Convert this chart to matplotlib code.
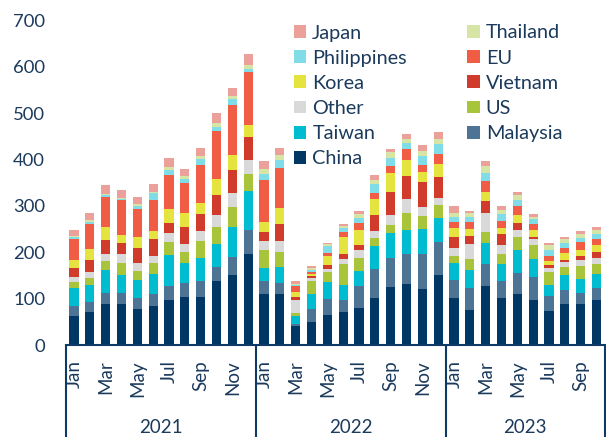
import matplotlib
matplotlib.use("Agg")
import matplotlib.pyplot as plt
import matplotlib.transforms as mtransforms
import numpy as np

plt.rcParams['font.family'] = ['Lato', 'DejaVu Sans']

months = ["Jan", "Feb", "Mar", "Apr", "May", "Jun", "Jul", "Aug", "Sep", "Oct", "Nov", "Dec"]
years = ["2021", "2022", "2023"]
months_per_year = [12, 12, 10]

China = [62, 72, 88, 88, 77, 85, 96, 103, 104, 137, 152, 197,
         109, 109, 42, 50, 65, 72, 80, 102, 126, 132, 121, 150,
         102, 76, 128, 102, 111, 96, 73, 88, 88, 96]
Malaysia = [23, 20, 25, 25, 24, 26, 31, 30, 35, 32, 37, 52,
            29, 25, 4, 28, 34, 26, 47, 63, 62, 65, 75, 73,
            39, 48, 46, 35, 44, 50, 33, 30, 24, 26]
Taiwan = [37, 37, 48, 38, 40, 43, 68, 44, 49, 48, 66, 83,
          28, 35, 17, 32, 37, 32, 32, 49, 54, 52, 54, 50,
          35, 37, 45, 37, 50, 40, 24, 32, 30, 32]
US = [13, 16, 20, 26, 19, 23, 28, 24, 37, 37, 43, 37,
      39, 32, 6, 27, 22, 45, 29, 17, 17, 35, 29, 29,
      17, 24, 25, 23, 27, 30, 27, 18, 29, 21]
Other = [12, 12, 16, 19, 17, 15, 19, 17, 20, 27, 29, 29,
         20, 23, 27, 7, 6, 10, 16, 14, 21, 31, 19, 15,
         16, 32, 40, 18, 17, 12, 9, 12, 13, 12]
Vietnam = [19, 27, 29, 24, 32, 36, 22, 36, 37, 42, 50, 51,
           19, 37, 7, 5, 9, 11, 12, 35, 50, 49, 53, 45,
           24, 19, 27, 25, 15, 6, 6, 4, 9, 14]
Korea = [17, 24, 28, 17, 24, 17, 29, 31, 24, 35, 32, 25,
         22, 35, 12, 4, 18, 37, 33, 36, 42, 35, 22, 29,
         20, 14, 19, 13, 17, 14, 9, 15, 13, 14]
EU = [46, 53, 65, 75, 61, 67, 73, 65, 82, 104, 109, 114,
      91, 85, 12, 4, 8, 10, 14, 12, 14, 24, 16, 22,
      13, 16, 24, 15, 18, 14, 11, 11, 16, 13]
Philippines = [3, 5, 4, 4, 6, 15, 12, 9, 14, 9, 12, 8,
               12, 17, 3, 5, 14, 9, 11, 19, 18, 12, 18, 21,
               11, 11, 17, 14, 14, 9, 12, 9, 9, 12]
Thailand = [3, 3, 3, 2, 4, 3, 6, 5, 6, 7, 7, 9,
            11, 11, 2, 4, 4, 4, 8, 10, 13, 10, 12, 11,
            8, 8, 16, 10, 11, 6, 11, 9, 9, 8]
Japan = [14, 16, 19, 17, 16, 17, 20, 16, 16, 23, 17, 22,
         17, 17, 5, 4, 4, 4, 7, 9, 5, 10, 12, 14,
         14, 5, 9, 8, 7, 6, 4, 5, 5, 6]

series_names = ["China", "Malaysia", "Taiwan", "US", "Other", "Vietnam",
                "Korea", "EU", "Philippines", "Thailand", "Japan"]
series_values = [China, Malaysia, Taiwan, US, Other, Vietnam,
                 Korea, EU, Philippines, Thailand, Japan]
series_colors = ["#003764", "#4D7395", "#00BCD0", "#A8C43A", "#D9D9D9", "#D13B2B",
                 "#E5E33D", "#F15C44", "#80DCE6", "#D6E4A6", "#EBA19A"]

text_color = "#1B3A5C"
axis_color = "#0D3A66"

fig = plt.figure(figsize=(6.06, 4.37), dpi=100)
ax = fig.add_axes([66 / 606, 1 - 345 / 437, (604.5 - 66) / 606, (345 - 20.5) / 437])

n = sum(months_per_year)
x = np.arange(n)
bottom = np.zeros(n)
handles = {}
for name, vals, col in zip(series_names, series_values, series_colors):
    v = np.array(vals, dtype=float)
    h = ax.bar(x, v, bottom=bottom, width=0.58, color=col, label=name, linewidth=0)
    handles[name] = h
    bottom += v

ax.set_xlim(-0.5, n - 0.5)
ax.set_ylim(0, 700)
ax.set_yticks(np.arange(0, 701, 100))
ax.tick_params(axis='y', length=0, pad=15, labelsize=13.3, labelcolor=text_color)

for s in ["top", "right", "left"]:
    ax.spines[s].set_visible(False)
ax.spines["bottom"].set_color(axis_color)
ax.spines["bottom"].set_linewidth(1.5)

# month tick labels (every other month)
tick_pos = []
tick_lab = []
start = 0
for nm in months_per_year:
    for m in range(0, nm, 2):
        tick_pos.append(start + m)
        tick_lab.append(months[m])
    start += nm
ax.set_xticks(tick_pos)
ax.set_xticklabels(tick_lab, rotation=90)
ax.tick_params(axis='x', length=0, pad=11, labelsize=13.5, labelcolor=text_color)

# multi-level category axis: separators and year labels
trans = mtransforms.blended_transform_factory(ax.transData, ax.transAxes)
bounds = [-0.5]
start = 0
for nm in months_per_year:
    start += nm
    bounds.append(start - 0.5)
for b in bounds:
    ax.plot([b, b], [0, -0.30], transform=trans, color=axis_color, lw=1.5,
            clip_on=False, solid_capstyle='butt')
for i, yr in enumerate(years):
    cx = (bounds[i] + bounds[i + 1]) / 2
    ax.text(cx, -0.255, yr, transform=trans, ha='center', va='center',
            fontsize=13.5, color=text_color)

# legend in two columns (Japan, Philippines, ... on the left)
left_col = ["Japan", "Philippines", "Korea", "Other", "Taiwan", "China"]
right_col = ["Thailand", "EU", "Vietnam", "US", "Malaysia"]
order = left_col + right_col
leg = fig.legend([handles[k] for k in order], order, ncol=2,
                 loc='upper left', bbox_to_anchor=(294 / 606, 1 - 24.5 / 437),
                 frameon=False, fontsize=14.3, handlelength=0.62, handleheight=0.62,
                 handletextpad=0.3, columnspacing=3.05, labelspacing=0.41,
                 borderpad=0, borderaxespad=0, labelcolor=text_color)

fig.savefig("out.png", dpi=100)
